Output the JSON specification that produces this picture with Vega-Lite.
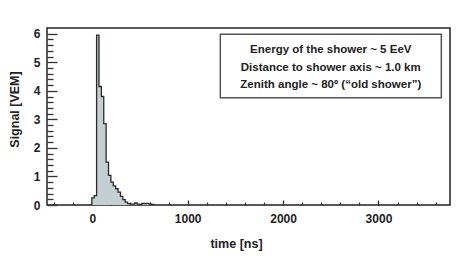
{
  "$schema": "https://vega.github.io/schema/vega-lite/v6.json",
  "width": 403,
  "height": 177,
  "autosize": "none",
  "padding": {"left": 47, "top": 28, "right": 7, "bottom": 62},
  "background": "white",
  "config": {
    "view": {"stroke": "#222", "strokeWidth": 1.5},
    "font": "Liberation Sans"
  },
  "layer": [
    {
      "data": {"values": [
        {"t": -30, "s": 0},
        {"t": -5, "s": 0.25},
        {"t": 20, "s": 0.33},
        {"t": 45, "s": 5.95},
        {"t": 70, "s": 4.15},
        {"t": 95, "s": 3.8},
        {"t": 120, "s": 2.85},
        {"t": 145, "s": 1.5},
        {"t": 170, "s": 1.04},
        {"t": 195, "s": 0.8},
        {"t": 220, "s": 0.67},
        {"t": 245, "s": 0.57},
        {"t": 270, "s": 0.45},
        {"t": 295, "s": 0.3},
        {"t": 320, "s": 0.19},
        {"t": 345, "s": 0.1},
        {"t": 370, "s": 0.05},
        {"t": 395, "s": 0.03},
        {"t": 420, "s": 0.03},
        {"t": 445, "s": 0.07},
        {"t": 470, "s": 0.03},
        {"t": 495, "s": 0.02},
        {"t": 520, "s": 0.06},
        {"t": 545, "s": 0.05},
        {"t": 570, "s": 0.06},
        {"t": 595, "s": 0.03},
        {"t": 620, "s": 0.02},
        {"t": 645, "s": 0}
      ]},
      "layer": [
        {
          "mark": {"type": "area", "interpolate": "step-after", "fill": "#c4cfd2", "clip": true},
          "encoding": {
            "x": {"field": "t", "type": "quantitative", "scale": {"domain": [-475, 3750], "nice": false, "zero": false},
              "axis": {
                "title": "time [ns]",
                "titleFont": "Liberation Sans", "titleFontSize": 12.5, "titleFontWeight": "bold", "titleColor": "#222",
                "titleX": 189,
                "titleY": 38,
                "titleBaseline": "middle",
                "domain": false,
                "grid": false,
                "tickCount": 200,
                "values": [-400, -200, 0, 200, 400, 600, 800, 1000, 1200, 1400, 1600, 1800, 2000, 2200, 2400, 2600, 2800, 3000, 3200, 3400, 3600],
                "labelExpr": "datum.value % 1000 === 0 ? format(datum.value, 'd') : ''",
                "labelOverlap": false,
                "labelFont": "Liberation Sans", "labelFontSize": 12, "labelFontWeight": "bold", "labelColor": "#222",
                "labelPadding": 13,
                "labelFlush": false,
                "tickColor": "#333",
                "tickWidth": 1.3,
                "tickSize": {"condition": {"test": "datum.value % 1000 === 0", "value": -5}, "value": -3}
              }
            },
            "y": {"field": "s", "type": "quantitative", "scale": {"domain": [0, 6.2], "nice": false},
              "axis": {
                "title": "Signal [VEM]",
                "titleFont": "Liberation Sans", "titleFontSize": 12.5, "titleFontWeight": "bold", "titleColor": "#222",
                "titleX": -33,
                "titleY": 81,
                "titleBaseline": "middle",
                "domain": false,
                "grid": false,
                "tickCount": 200,
                "values": [0, 0.2, 0.4, 0.6, 0.8, 1, 1.2, 1.4, 1.6, 1.8, 2, 2.2, 2.4, 2.6, 2.8, 3, 3.2, 3.4, 3.6, 3.8, 4, 4.2, 4.4, 4.6, 4.8, 5, 5.2, 5.4, 5.6, 5.8, 6],
                "labelExpr": "abs(datum.value - round(datum.value)) < 0.01 ? format(datum.value, 'd') : ''",
                "labelOverlap": false,
                "labelFont": "Liberation Sans", "labelFontSize": 12, "labelFontWeight": "bold", "labelColor": "#222",
                "labelPadding": 17,
                "labelFlush": false,
                "tickColor": "#333",
                "tickWidth": 1.3,
                "tickSize": {"condition": {"test": "abs(datum.value - round(datum.value)) < 0.01", "value": -10}, "value": -6}
              }
            }
          }
        },
        {
          "mark": {"type": "line", "interpolate": "step-after", "color": "#2a2a2a", "strokeWidth": 1.3, "clip": true},
          "encoding": {
            "x": {"field": "t", "type": "quantitative"},
            "y": {"field": "s", "type": "quantitative"}
          }
        }
      ]
    },
    {
      "data": {"values": [{"x1": 1342, "x2": 3659, "y1": 3.76, "y2": 5.98}]},
      "mark": {"type": "rect", "fill": "white", "stroke": "#555", "strokeWidth": 1.5},
      "encoding": {
        "x": {"field": "x1", "type": "quantitative"},
        "x2": {"field": "x2"},
        "y": {"field": "y1", "type": "quantitative"},
        "y2": {"field": "y2"}
      }
    },
    {
      "data": {"values": [
        {"t": 2500, "s": 5.43, "label": "Energy of the shower ~ 5 EeV"},
        {"t": 2500, "s": 4.81, "label": "Distance to shower axis ~ 1.0 km"},
        {"t": 2500, "s": 4.2, "label": "Zenith angle ~ 80º (“old shower”)"}
      ]},
      "mark": {"type": "text", "font": "Liberation Sans", "fontSize": 11.5, "fontWeight": "bold", "color": "#222", "align": "center", "baseline": "middle"},
      "encoding": {
        "x": {"field": "t", "type": "quantitative"},
        "y": {"field": "s", "type": "quantitative"},
        "text": {"field": "label"}
      }
    }
  ]
}
